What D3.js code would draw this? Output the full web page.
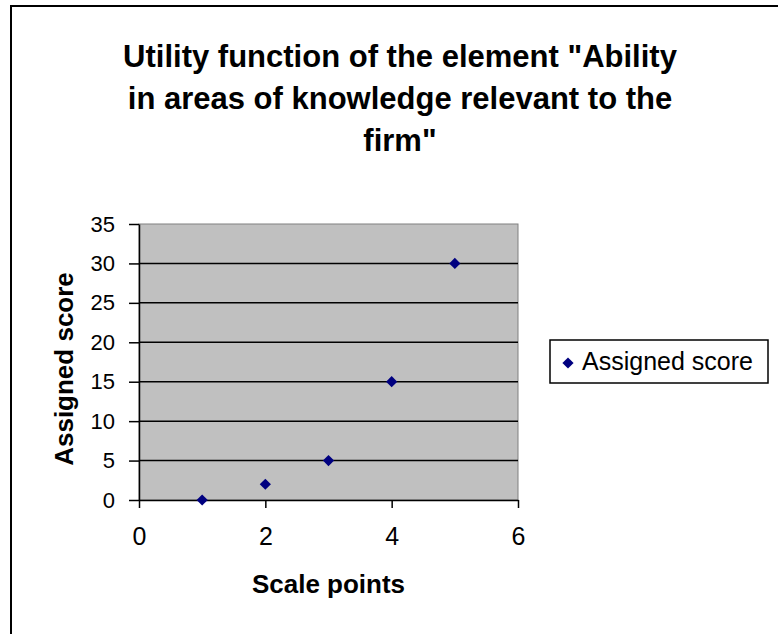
<!DOCTYPE html>
<html>
<head>
<meta charset="utf-8">
<script src="https://cdn.jsdelivr.net/npm/d3@7"></script>
<style>
  body { margin: 0; background: #fff; }
  svg { display: block; }
</style>
</head>
<body>
<svg id="chart"></svg>
<script>
// data
var scalePoints = [1, 2, 3, 4, 5];
var assignedScore = [0, 2, 5, 15, 30];
var xTicks = [0, 2, 4, 6];
var yTicks = [0, 5, 10, 15, 20, 25, 30, 35];
var titleLines = ["Utility function of the element \"Ability", "in areas of knowledge relevant to the", "firm\""];
var seriesName = "Assigned score";

var dimensions = {
    width: 778,
    height: 634,
    margin: { top: 224, bottom: 134, left: 139, right: 260 }
}

var dataset = scalePoints.map((x, i) => ({ x: x, y: assignedScore[i] }));

var svg = d3.select("#chart")
            .attr("width", dimensions.width)
            .attr("height", dimensions.height)
            .style("font-family", "Liberation Sans, Arial, sans-serif")

// outer chart border (left and top only visible)
svg.append("rect")
   .attr("x", 11).attr("y", 6)
   .attr("width", 800).attr("height", 700)
   .attr("fill", "none")
   .attr("stroke", "#000")
   .attr("stroke-width", 2)

var xScale = d3.scaleLinear()
               .domain([0, 6])
               .range([dimensions.margin.left, dimensions.width - dimensions.margin.right])

var yScale = d3.scaleLinear()
               .domain([0, 35])
               .range([dimensions.height - dimensions.margin.bottom, dimensions.margin.top])

// plot area
svg.append("rect")
   .attr("x", xScale(0)).attr("y", yScale(35))
   .attr("width", xScale(6) - xScale(0))
   .attr("height", yScale(0) - yScale(35))
   .attr("fill", "#c0c0c0")
   .attr("stroke", "#808080")
   .attr("stroke-width", 1)

// gridlines
svg.append("g")
   .selectAll("line")
   .data(yTicks.filter(d => d > 0 && d < 35))
   .enter()
   .append("line")
   .attr("x1", xScale(0)).attr("x2", xScale(6))
   .attr("y1", d => yScale(d)).attr("y2", d => yScale(d))
   .attr("stroke", "#000")
   .attr("stroke-width", 1.5)

var xAxisGen = d3.axisBottom(xScale).tickValues(xTicks).tickFormat(d3.format("d"))
                 .tickSizeInner(8).tickSizeOuter(0).tickPadding(19)
var xAxis = svg.append("g")
               .attr("transform", `translate(0,${yScale(0)})`)
               .call(xAxisGen)

var yAxisGen = d3.axisLeft(yScale).tickValues(yTicks).tickFormat(d3.format("d"))
                 .tickSizeInner(10).tickSizeOuter(0).tickPadding(14)
var yAxis = svg.append("g")
               .attr("transform", `translate(${xScale(0)},0)`)
               .call(yAxisGen)

svg.selectAll(".domain").attr("stroke", "#000").attr("stroke-width", 1.5)
svg.selectAll(".tick line").attr("stroke", "#000").attr("stroke-width", 1.5)
svg.selectAll(".tick text")
   .attr("fill", "#000")
   .style("font-family", "Liberation Sans, Arial, sans-serif")
xAxis.selectAll(".tick text").style("font-size", "25px")
yAxis.selectAll(".tick text").style("font-size", "22px")

// points
var diamond = d3.symbol().type(d3.symbolDiamond2).size(80)
svg.append("g")
   .selectAll("path")
   .data(dataset)
   .enter()
   .append("path")
   .attr("d", diamond)
   .attr("transform", d => `translate(${xScale(d.x)},${yScale(d.y)})`)
   .attr("fill", "#000080")

// title
svg.append("g")
   .selectAll("text")
   .data(titleLines)
   .enter()
   .append("text")
   .text(d => d)
   .attr("x", 400)
   .attr("y", (d, i) => 67 + i * 42)
   .attr("text-anchor", "middle")
   .style("font-size", "31px")
   .style("font-weight", "bold")

// axis labels
svg.append("text")
   .text("Scale points")
   .attr("x", (xScale(0) + xScale(6)) / 2)
   .attr("y", 593)
   .attr("text-anchor", "middle")
   .style("font-size", "26px")
   .style("font-weight", "bold")

svg.append("text")
   .text(seriesName)
   .attr("transform", "translate(73,369) rotate(-90)")
   .attr("text-anchor", "middle")
   .style("font-size", "26px")
   .style("font-weight", "bold")

// legend
var legend = svg.append("g").attr("transform", "translate(550,340)")
legend.append("rect")
      .attr("width", 218).attr("height", 43)
      .attr("fill", "#fff")
      .attr("stroke", "#000")
      .attr("stroke-width", 1.5)
legend.append("path")
      .attr("d", diamond)
      .attr("transform", "translate(18,23)")
      .attr("fill", "#000080")
legend.append("text")
      .text(seriesName)
      .attr("x", 32).attr("y", 30)
      .style("font-size", "25px")
</script>
</body>
</html>
